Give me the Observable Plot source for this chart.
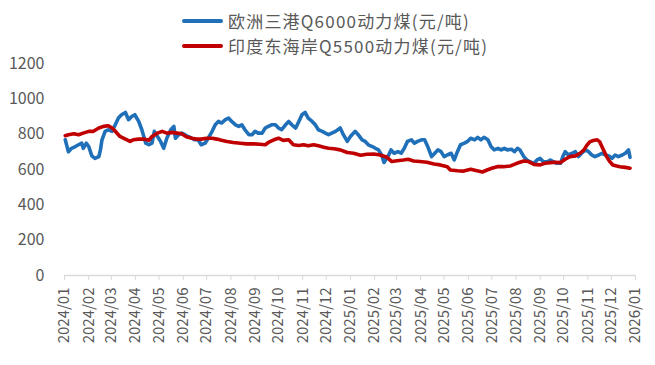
<!DOCTYPE html>
<html><head><meta charset="utf-8">
<script src="https://cdn.jsdelivr.net/npm/d3@7"></script>
<script src="https://cdn.jsdelivr.net/npm/@observablehq/plot@0.6"></script>
<style>
body{margin:0;background:#fff;}
#wrap{position:relative;width:655px;height:365px;font-family:"Noto Sans CJK SC",sans-serif;}
.row{position:absolute;left:182px;height:21px;display:flex;align-items:center;font-size:17px;letter-spacing:1.2px;color:#595959;white-space:nowrap;line-height:21px;}
.sw{display:inline-block;width:41px;height:4px;border-radius:2px;margin-right:5px;}
#chart{position:absolute;left:0;top:0;}
</style></head>
<body><div id="wrap"><div id="chart"></div><div id="legend"></div></div>
<script>
const seriesNames = ["欧洲三港Q6000动力煤(元/吨)", "印度东海岸Q5500动力煤(元/吨)"];
const seriesColors = ["#1F70B8", "#C00000"];

const blueDates = ["2024-01-02","2024-01-06","2024-01-10","2024-01-15","2024-01-19","2024-01-23","2024-01-25","2024-01-29","2024-02-01","2024-02-05","2024-02-09","2024-02-14","2024-02-16","2024-02-18","2024-02-22","2024-02-26","2024-03-02","2024-03-06","2024-03-10","2024-03-14","2024-03-19","2024-03-23","2024-03-27","2024-03-31","2024-04-05","2024-04-09","2024-04-14","2024-04-18","2024-04-22","2024-04-25","2024-04-29","2024-05-03","2024-05-07","2024-05-11","2024-05-16","2024-05-20","2024-05-22","2024-05-26","2024-05-30","2024-06-03","2024-06-07","2024-06-12","2024-06-16","2024-06-20","2024-06-24","2024-06-29","2024-07-03","2024-07-08","2024-07-12","2024-07-16","2024-07-20","2024-07-25","2024-07-29","2024-08-02","2024-08-07","2024-08-11","2024-08-15","2024-08-19","2024-08-24","2024-08-28","2024-09-01","2024-09-05","2024-09-10","2024-09-14","2024-09-18","2024-09-22","2024-09-27","2024-10-01","2024-10-05","2024-10-10","2024-10-14","2024-10-18","2024-10-23","2024-10-27","2024-10-31","2024-11-04","2024-11-08","2024-11-13","2024-11-17","2024-11-21","2024-11-26","2024-11-30","2024-12-04","2024-12-13","2024-12-19","2024-12-23","2024-12-28","2025-01-01","2025-01-07","2025-01-11","2025-01-16","2025-01-20","2025-01-24","2025-01-29","2025-02-02","2025-02-06","2025-02-10","2025-02-13","2025-02-19","2025-02-22","2025-02-26","2025-03-03","2025-03-07","2025-03-11","2025-03-15","2025-03-20","2025-03-24","2025-03-28","2025-04-02","2025-04-06","2025-04-10","2025-04-15","2025-04-19","2025-04-23","2025-04-27","2025-05-01","2025-05-05","2025-05-10","2025-05-14","2025-05-18","2025-05-22","2025-05-27","2025-05-31","2025-06-04","2025-06-09","2025-06-13","2025-06-17","2025-06-21","2025-06-26","2025-06-30","2025-07-04","2025-07-09","2025-07-13","2025-07-17","2025-07-21","2025-07-26","2025-07-30","2025-08-03","2025-08-06","2025-08-11","2025-08-15","2025-08-19","2025-08-24","2025-08-28","2025-09-01","2025-09-05","2025-09-10","2025-09-14","2025-09-18","2025-09-22","2025-09-27","2025-09-30","2025-10-03","2025-10-07","2025-10-12","2025-10-16","2025-10-20","2025-10-24","2025-10-29","2025-11-02","2025-11-06","2025-11-10","2025-11-15","2025-11-19","2025-11-23","2025-11-28","2025-12-02","2025-12-06","2025-12-10","2025-12-15","2025-12-19","2025-12-23","2025-12-25"];
const blueValues = [768,700,720,730,740,749,720,749,730,677,663,673,711,768,816,825,816,853,891,910,923,882,900,910,872,825,749,740,749,816,787,759,720,777,825,844,777,797,806,797,787,777,768,768,740,749,777,816,853,872,863,882,891,872,853,844,853,825,797,797,816,806,806,835,844,853,853,835,825,853,872,853,835,872,910,923,891,872,853,825,816,806,797,816,835,797,759,787,816,797,768,759,740,730,720,711,682,640,682,711,692,701,692,720,759,768,749,759,768,768,730,673,692,711,701,673,682,692,654,701,740,749,759,777,768,782,768,782,768,730,711,720,711,720,711,715,701,720,711,673,654,644,635,654,663,644,644,654,644,635,635,673,701,682,692,701,673,692,711,701,682,673,682,692,682,677,663,682,673,682,692,711,669];

const redDates = ["2024-01-02","2024-01-06","2024-01-13","2024-01-19","2024-01-25","2024-02-01","2024-02-07","2024-02-14","2024-02-20","2024-02-26","2024-03-02","2024-03-06","2024-03-12","2024-03-19","2024-03-25","2024-03-29","2024-04-05","2024-04-11","2024-04-18","2024-04-22","2024-04-29","2024-05-05","2024-05-11","2024-05-18","2024-05-24","2024-05-30","2024-06-05","2024-06-12","2024-06-18","2024-06-24","2024-07-01","2024-07-08","2024-07-14","2024-07-20","2024-07-27","2024-08-04","2024-08-13","2024-08-21","2024-08-30","2024-09-07","2024-09-14","2024-09-18","2024-09-25","2024-10-01","2024-10-07","2024-10-14","2024-10-20","2024-10-27","2024-11-02","2024-11-08","2024-11-15","2024-11-21","2024-11-28","2024-12-04","2024-12-11","2024-12-19","2024-12-28","2025-01-05","2025-01-14","2025-01-22","2025-01-31","2025-02-08","2025-02-17","2025-02-23","2025-03-02","2025-03-10","2025-03-16","2025-03-23","2025-03-31","2025-04-09","2025-04-18","2025-04-26","2025-05-05","2025-05-09","2025-05-18","2025-05-26","2025-06-04","2025-06-12","2025-06-19","2025-06-25","2025-07-01","2025-07-08","2025-07-16","2025-07-25","2025-08-02","2025-08-11","2025-08-17","2025-08-24","2025-09-01","2025-09-07","2025-09-14","2025-09-20","2025-09-27","2025-10-03","2025-10-09","2025-10-16","2025-10-22","2025-10-27","2025-10-31","2025-11-04","2025-11-08","2025-11-13","2025-11-16","2025-11-20","2025-11-25","2025-11-29","2025-12-03","2025-12-08","2025-12-12","2025-12-19","2025-12-25"];
const redValues = [791,797,802,797,806,816,816,835,844,848,835,816,787,772,759,768,772,772,765,787,806,816,806,810,806,802,785,777,772,772,777,777,772,765,759,753,749,745,745,743,740,753,768,777,765,768,740,736,740,734,740,734,726,720,717,711,696,692,681,686,688,682,669,645,650,654,658,648,645,641,631,626,616,597,593,591,601,593,586,597,607,616,616,620,635,648,645,629,626,635,639,641,639,658,673,677,692,711,739,758,764,768,758,720,673,645,626,620,616,612,607];

const xTickLabels = ["2024/01","2024/02","2024/03","2024/04","2024/05","2024/06","2024/07","2024/08","2024/09","2024/10","2024/11","2024/12","2025/01","2025/02","2025/03","2025/04","2025/05","2025/06","2025/07","2025/08","2025/09","2025/10","2025/11","2025/12","2026/01"];
const yTicks = [0, 200, 400, 600, 800, 1000, 1200];

const parseTick = d3.utcParse("%Y/%m");
const xTicks = xTickLabels.map(parseTick);
const parseDay = d3.utcParse("%Y-%m-%d");
const blueRows = blueDates.map((d, i) => ({date: parseDay(d), value: blueValues[i]}));
const redRows = redDates.map((d, i) => ({date: parseDay(d), value: redValues[i]}));

const chart = Plot.plot({
  width: 655, height: 365,
  marginLeft: 64, marginRight: 20, marginTop: 63, marginBottom: 90,
  style: {fontFamily: '"Noto Sans CJK SC", sans-serif', background: "#fff", overflow: "visible"},
  x: {type: "utc", domain: [xTicks[0], xTicks[xTicks.length - 1]]},
  y: {domain: [0, 1200]},
  marks: [
    Plot.ruleY([0], {stroke: "#d9d9d9", strokeWidth: 1.3}),
    Plot.axisY({ticks: yTicks, tickFormat: d => String(d), tickSize: 0, tickPadding: 20, fontSize: 16, fill: "#595959", label: null}),
    Plot.axisX({ticks: xTicks, tickFormat: (d, i) => xTickLabels[i], tickRotate: -90, tickSize: 5, tickPadding: 7, stroke: "#d9d9d9", fill: "#595959", fontSize: 15, label: null}),
    Plot.line(blueRows, {x: "date", y: "value", stroke: seriesColors[0], strokeWidth: 3.6, strokeLinejoin: "round", strokeLinecap: "round"}),
    Plot.line(redRows, {x: "date", y: "value", stroke: seriesColors[1], strokeWidth: 3.6, strokeLinejoin: "round", strokeLinecap: "round"})
  ]
});
document.getElementById("chart").appendChild(chart);

const legend = document.getElementById("legend");
seriesNames.forEach((name, i) => {
  const row = document.createElement("div");
  row.className = "row";
  row.style.top = (10 + i * 25) + "px";
  const sw = document.createElement("span");
  sw.className = "sw";
  sw.style.background = seriesColors[i];
  row.appendChild(sw);
  row.appendChild(document.createTextNode(name));
  legend.appendChild(row);
});
</script>
</body></html>
